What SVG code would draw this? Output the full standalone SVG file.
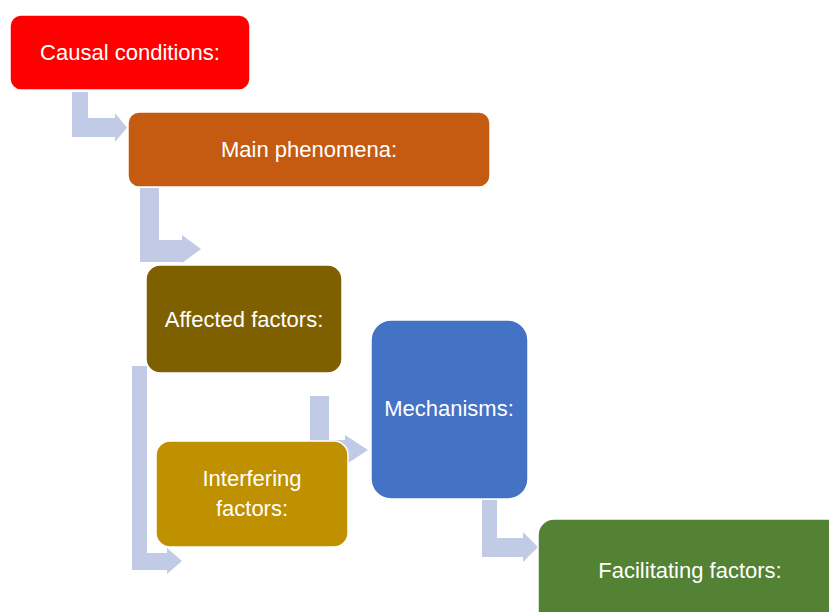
<svg xmlns="http://www.w3.org/2000/svg" width="829" height="612" viewBox="0 0 829 612">
<style>
.box{stroke:#ffffff;stroke-width:1.5}
.arr{fill:#C1CBE5}
.t{font-family:"Liberation Sans",Arial,sans-serif;font-size:22px;fill:#ffffff;text-anchor:middle}
</style>
<rect width="829" height="612" fill="#ffffff"/>
<g id="connectors">
<path class="arr" d="M72,92 H88 V118 H115 V113 L127,127.5 L115,142 V137 H72 Z"/>
<path class="arr" d="M140,188 H159 V240 H182 V235 L201,249 L182,263 V262 H140 Z"/>
<path class="arr" d="M132,366 H147 V553 H167 V548 L182,561 L167,574 V570 H132 Z"/>
<path class="arr" d="M310,396 H329 V440 H345 V435 L368,450 L345,465 V460 H310 Z"/>
<path class="arr" d="M482,500 H497 V538 H523 V532 L538,547 L523,562 V557 H482 Z"/>
</g>
<g id="causal">
<rect class="box" x="10" y="15" width="240" height="75" rx="11" fill="#FF0000"/>
<text class="t" x="130" y="60">Causal conditions:</text>
</g>
<g id="main">
<rect class="box" x="128" y="112" width="362" height="75" rx="11" fill="#C55A11"/>
<text class="t" x="309" y="157">Main phenomena:</text>
</g>
<g id="affected">
<rect class="box" x="146" y="265" width="196" height="108" rx="14" fill="#7F6000"/>
<text class="t" x="244" y="327">Affected factors:</text>
</g>
<g id="interfering">
<rect class="box" x="156" y="441" width="192" height="106" rx="14" fill="#BF9000"/>
<text class="t" x="252" y="486">Interfering</text>
<text class="t" x="252" y="516">factors:</text>
</g>
<g id="mechanisms">
<rect class="box" x="371" y="320" width="157" height="179" rx="20" fill="#4472C4"/>
<text class="t" x="449" y="416">Mechanisms:</text>
</g>
<g id="facilitating">
<rect class="box" x="538" y="519" width="310" height="110" rx="16" fill="#548235"/>
<text class="t" x="690" y="578">Facilitating factors:</text>
</g>
</svg>
